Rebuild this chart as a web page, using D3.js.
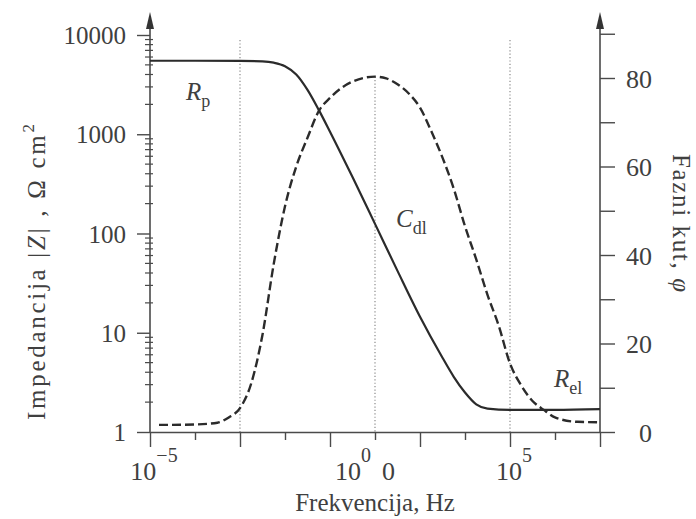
<!DOCTYPE html>
<html>
<head>
<meta charset="utf-8">
<script src="https://cdn.jsdelivr.net/npm/d3@7"></script>
<style>
body { margin: 0; background: #fff; }
svg text { font-family: "Liberation Serif", "Times New Roman", serif; fill: #404040; }
</style>
</head>
<body>
<svg id="chart" width="696" height="519"></svg>
<script>
// log10 of frequency (decade index as drawn on the axis) and |Z| in ohm cm2
var logFreq   = [-5, -4, -3, -2.5, -2.25, -2, -1.75, -1.5, -1.25, -1, -0.5, 0, 0.5, 1, 1.5, 1.75, 2, 2.25, 2.5, 3, 4, 5];
var impedance = [5500, 5500, 5480, 5420, 5260, 4850, 4000, 2800, 1760, 1060, 370, 125, 42, 14.5, 5.6, 3.6, 2.5, 1.9, 1.72, 1.67, 1.67, 1.7];

// phase angle curve, degrees
var phaseFreq  = [-4.8, -4, -3.5, -3.25, -3, -2.75, -2.5, -2.25, -2, -1.75, -1.5, -1.25, -1, -0.5, 0, 0.25, 0.5, 0.75, 1, 1.25, 1.5, 1.75, 2, 2.25, 2.5, 2.75, 3, 3.25, 3.5, 3.75, 4, 4.5, 5];
var phaseAngle = [1.6, 1.7, 2.1, 3.3, 5.4, 11, 22, 38, 51, 60, 66.5, 72.5, 75.5, 79.2, 80.3, 79.9, 78.6, 76.5, 73.3, 68, 62, 55, 46.5, 39, 31, 24, 15.5, 10.5, 7, 5, 3.3, 2.3, 2.2];

// axes
var xTicks = [-5, -4, -3, -2, -1, 0, 1, 2, 3, 4, 5];
var xLabels = [
  { at: -5, base: "10", exp: "\u22125", tail: "" },
  { at: 0,  base: "10", exp: "0",      tail: "0" },
  { at: 3,  base: "10", exp: "5",      tail: "" }
];
var zTicks = [1, 10, 100, 1000, 10000];
var phiTicks = [0, 20, 40, 60, 80];
var phiMinor = [10, 30, 50, 70, 90];
var guideFreq = [-3, 3];

var svg = d3.select("#chart");
var ink = "#2b2b2b", axisCol = "#4a4a4a";

var x = d3.scaleLinear().domain([-5, 5]).range([150, 600]);
var yZ = d3.scaleLog().domain([1, 10000]).range([432, 35]);
var yP = d3.scaleLinear().domain([0, 80]).range([432, 78]);

// dotted guides
svg.append("g").selectAll("line").data(guideFreq).enter().append("line")
  .attr("x1", function (d) { return x(d); }).attr("x2", function (d) { return x(d); })
  .attr("y1", 40).attr("y2", 432)
  .attr("stroke", "#8a8a8a").attr("stroke-width", 1.2).attr("stroke-dasharray", "1.2,2.2");
var peakIdx = d3.maxIndex(phaseAngle);
svg.append("line")
  .attr("x1", x(phaseFreq[peakIdx])).attr("x2", x(phaseFreq[peakIdx]))
  .attr("y1", yP(phaseAngle[peakIdx])).attr("y2", 432)
  .attr("stroke", "#8a8a8a").attr("stroke-width", 1.2).attr("stroke-dasharray", "1.2,2.2");

// bottom axis
var xAxis = svg.append("g").attr("transform", "translate(0,432)").style("color", axisCol)
  .call(d3.axisBottom(x).tickValues(xTicks).tickSize(15).tickSizeOuter(0).tickFormat(""));
xAxis.select(".domain").attr("stroke-width", 1.6);
xAxis.selectAll(".tick line").attr("stroke-width", 1.4)
  .attr("y2", function (d) { return (d + 5) % 2 === 0 ? 15 : 8; });

var xl = svg.append("g").selectAll("text").data(xLabels).enter().append("text")
  .attr("x", function (d) { return x(d.at); }).attr("y", 480)
  .attr("dx", function (d) { return d.tail ? -10 : 4; })
  .attr("text-anchor", "middle").attr("font-size", 26);
xl.append("tspan").text(function (d) { return d.base; });
xl.append("tspan").attr("font-size", 20).attr("dy", -18).text(function (d) { return d.exp; });
xl.append("tspan").attr("dy", 18).attr("dx", function (d) { return d.tail ? 11 : 0; })
  .text(function (d) { return d.tail; });

// left axis
var leftAxis = svg.append("g").attr("transform", "translate(150,0)").style("color", axisCol)
  .call(d3.axisLeft(yZ).tickValues(zTicks).tickSize(13).tickPadding(11).tickFormat(d3.format("d")));
leftAxis.select(".domain").remove();
leftAxis.selectAll(".tick line").attr("stroke-width", 1.4);
leftAxis.selectAll("text").attr("font-size", 25).attr("dy", "0.34em");
var minor = yZ.ticks().filter(function (d) { return zTicks.indexOf(d) < 0; });
svg.append("g").selectAll("line").data(minor).enter().append("line")
  .attr("x1", 145).attr("x2", 153)
  .attr("y1", function (d) { return yZ(d); }).attr("y2", function (d) { return yZ(d); })
  .attr("stroke", axisCol).attr("stroke-width", 1.2);

// right axis
var rightAxis = svg.append("g").attr("transform", "translate(600,0)").style("color", axisCol)
  .call(d3.axisRight(yP).tickValues(phiTicks.concat(phiMinor)).tickSize(15)
    .tickFormat(function (d) { return phiTicks.indexOf(d) >= 0 ? d : ""; }));
rightAxis.select(".domain").remove();
rightAxis.selectAll(".tick line").attr("stroke-width", 1.4);
rightAxis.selectAll("text").attr("font-size", 26).attr("text-anchor", "end").attr("x", 52).attr("dy", "0.35em");

// axis lines with arrows
[150, 600].forEach(function (ax) {
  svg.append("line").attr("x1", ax).attr("x2", ax).attr("y1", 432).attr("y2", 22)
    .attr("stroke", axisCol).attr("stroke-width", 1.6);
  svg.append("path").attr("d", "M" + ax + ",12 L" + (ax - 4) + ",29 L" + (ax + 4) + ",29 Z")
    .attr("fill", "#333");
});

// curves
var zLine = d3.line().curve(d3.curveMonotoneX)
  .x(function (d, i) { return x(logFreq[i]); })
  .y(function (d) { return yZ(d); });
svg.append("path").datum(impedance).attr("d", zLine)
  .attr("fill", "none").attr("stroke", ink).attr("stroke-width", 2.2);

var pLine = d3.line().curve(d3.curveMonotoneX)
  .x(function (d, i) { return x(phaseFreq[i]); })
  .y(function (d) { return yP(d); });
svg.append("path").datum(phaseAngle).attr("d", pLine)
  .attr("fill", "none").attr("stroke", ink).attr("stroke-width", 2.4).attr("stroke-dasharray", "9,4");

// annotations
function label(px, py, main, sub) {
  var t = svg.append("text").attr("x", px).attr("y", py).attr("font-size", 25);
  t.append("tspan").attr("font-style", "italic").text(main);
  t.append("tspan").attr("font-size", 18).attr("dy", 7).text(sub);
}
label(186, 100, "R", "p");
label(396, 227, "C", "dl");
label(554, 387, "R", "el");

// axis titles
var lt = svg.append("text").attr("transform", "translate(45,272) rotate(-90)")
  .attr("text-anchor", "middle").attr("font-size", 25)
  .attr("textLength", 296).attr("lengthAdjust", "spacing");
lt.append("tspan").text("Impedancija |");
lt.append("tspan").attr("font-style", "italic").text("Z");
lt.append("tspan").text("| , \u03A9 cm");
lt.append("tspan").attr("font-size", 17).attr("dy", -11).text("2");

var rt = svg.append("text").attr("transform", "translate(673,223) rotate(90)")
  .attr("text-anchor", "middle").attr("font-size", 25)
  .attr("textLength", 138).attr("lengthAdjust", "spacing");
rt.append("tspan").text("Fazni kut, ");
rt.append("tspan").attr("font-style", "italic").text("\u03C6");

svg.append("text").attr("x", 375).attr("y", 511).attr("text-anchor", "middle")
  .attr("font-size", 25).text("Frekvencija, Hz");
</script>
</body>
</html>
